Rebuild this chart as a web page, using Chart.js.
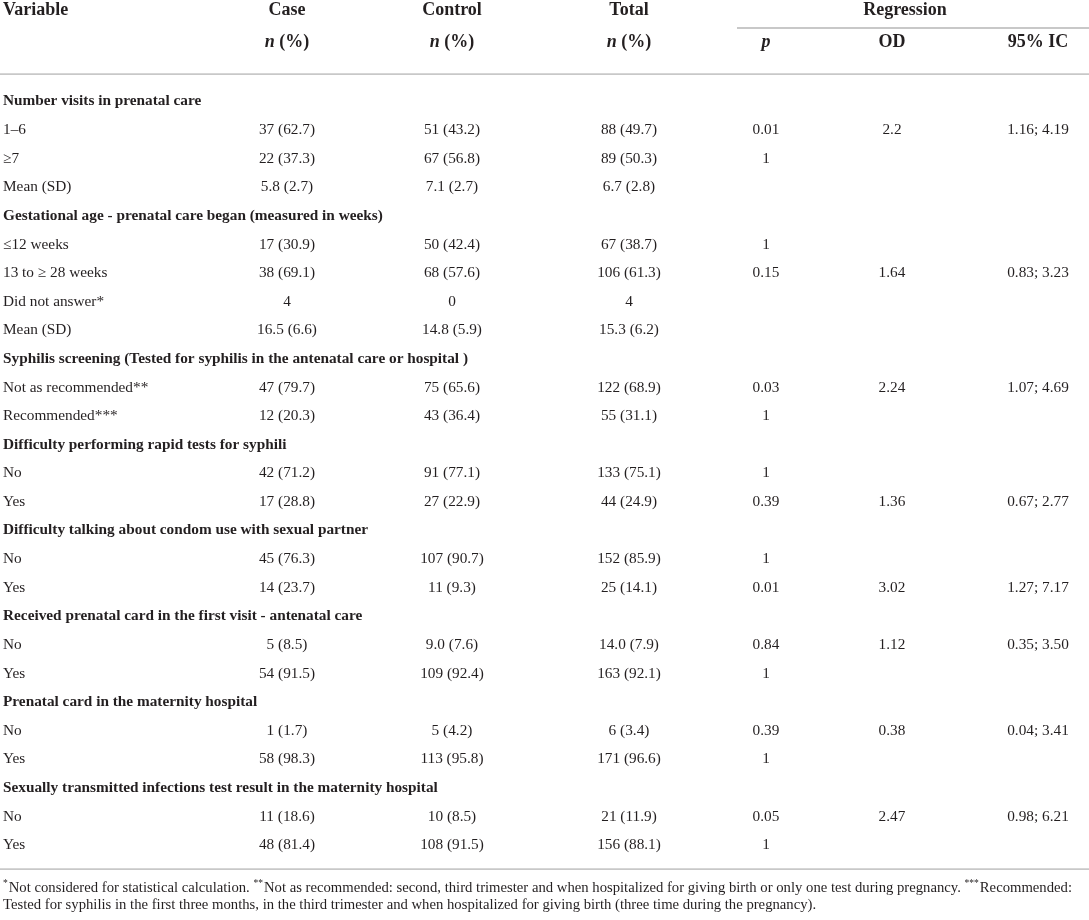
<!DOCTYPE html>
<html>
<head>
<meta charset="utf-8">
<script src="https://cdn.jsdelivr.net/npm/chart.js@4.4.1/dist/chart.umd.min.js"></script>
<style>
html, body { margin: 0; padding: 0; background: #fff; }
#wrap { width: 1089px; height: 920px; position: relative; }
</style>
</head>
<body>
<div id="wrap"><canvas id="chart"></canvas></div>
<script>
// table content, one array per column
const variables = [
  "Number visits in prenatal care", "1–6", "≥7", "Mean (SD)",
  "Gestational age - prenatal care began (measured in weeks)", "≤12 weeks", "13 to ≥ 28 weeks", "Did not answer*", "Mean (SD)",
  "Syphilis screening (Tested for syphilis in the antenatal care or hospital )", "Not as recommended**", "Recommended***",
  "Difficulty performing rapid tests for syphili", "No", "Yes",
  "Difficulty talking about condom use with sexual partner", "No", "Yes",
  "Received prenatal card in the first visit - antenatal care", "No", "Yes",
  "Prenatal card in the maternity hospital", "No", "Yes",
  "Sexually transmitted infections test result in the maternity hospital", "No", "Yes"
];
const groupRows = [0, 4, 9, 12, 15, 18, 21, 24];

const caseN = ["", "37 (62.7)", "22 (37.3)", "5.8 (2.7)", "", "17 (30.9)", "38 (69.1)", "4", "16.5 (6.6)", "", "47 (79.7)", "12 (20.3)", "", "42 (71.2)", "17 (28.8)", "", "45 (76.3)", "14 (23.7)", "", "5 (8.5)", "54 (91.5)", "", "1 (1.7)", "58 (98.3)", "", "11 (18.6)", "48 (81.4)"];
const controlN = ["", "51 (43.2)", "67 (56.8)", "7.1 (2.7)", "", "50 (42.4)", "68 (57.6)", "0", "14.8 (5.9)", "", "75 (65.6)", "43 (36.4)", "", "91 (77.1)", "27 (22.9)", "", "107 (90.7)", "11 (9.3)", "", "9.0 (7.6)", "109 (92.4)", "", "5 (4.2)", "113 (95.8)", "", "10 (8.5)", "108 (91.5)"];
const totalN = ["", "88 (49.7)", "89 (50.3)", "6.7 (2.8)", "", "67 (38.7)", "106 (61.3)", "4", "15.3 (6.2)", "", "122 (68.9)", "55 (31.1)", "", "133 (75.1)", "44 (24.9)", "", "152 (85.9)", "25 (14.1)", "", "14.0 (7.9)", "163 (92.1)", "", "6 (3.4)", "171 (96.6)", "", "21 (11.9)", "156 (88.1)"];
const pValue = ["", "0.01", "1", "", "", "1", "0.15", "", "", "", "0.03", "1", "", "1", "0.39", "", "1", "0.01", "", "0.84", "1", "", "0.39", "1", "", "0.05", "1"];
const oddsRatio = ["", "2.2", "", "", "", "", "1.64", "", "", "", "2.24", "", "", "", "1.36", "", "", "3.02", "", "1.12", "", "", "0.38", "", "", "2.47", ""];
const ci95 = ["", "1.16; 4.19", "", "", "", "", "0.83; 3.23", "", "", "", "1.07; 4.69", "", "", "", "0.67; 2.77", "", "", "1.27; 7.17", "", "0.35; 3.50", "", "", "0.04; 3.41", "", "", "0.98; 6.21", ""];

const headTop = ["Variable", "Case", "Control", "Total"];
const headSub = ["", "n (%)", "n (%)", "n (%)", "p", "OD", "95% IC"];
const footLines = [
  [["sup", "*"], ["txt", "Not considered for statistical calculation. "], ["sup", "**"], ["txt", "Not as recommended: second, third trimester and when hospitalized for giving birth or only one test during pregnancy. "], ["sup", "***"], ["txt", "Recommended:"]],
  [["txt", "Tested for syphilis in the first three months, in the third trimester and when hospitalized for giving birth (three time during the pregnancy)."]]
];

// layout
const W = 1089, H = 920;
const COL_X = [3, 287, 452, 629, 766, 892, 1038];
const ROW0 = 101.5, ROW_H = 28.6;
const HEAD1 = -3.2, HEAD2 = -2.08, RULE_HEAD = -0.96, RULE_REG = -2.57, RULE_END = 26.84;
const FOOT1 = 27.5, FOOT2 = 28.1;
const REG_X0 = 737, REG_MID = 905;
const SERIF = "'Liberation Serif', 'DejaVu Serif', serif";
const INK = "#231f20";

const columns = [variables, caseN, controlN, totalN, pValue, oddsRatio, ci95];

const datasets = columns.map(function(col, c){
  const pts = [];
  col.forEach(function(t, r){
    if (t !== "") pts.push({ x: COL_X[c], y: r, text: t, bold: c === 0 && groupRows.includes(r) });
  });
  return { data: pts, pointRadius: 0, pointHoverRadius: 0, align: c === 0 ? "left" : "center" };
});

function richText(ctx, parts, x, y, align){
  // parts: [font, text]
  let w = 0;
  parts.forEach(function(p){ ctx.font = p[0]; w += ctx.measureText(p[1]).width; });
  let cx = align === "center" ? x - w / 2 : x;
  ctx.textAlign = "left";
  parts.forEach(function(p){ ctx.font = p[0]; ctx.fillText(p[1], cx, y); cx += ctx.measureText(p[1]).width; });
}

const tablePlugin = {
  id: "tableText",
  afterDatasetsDraw: function(chart){
    const ctx = chart.ctx;
    const xs = chart.scales.x, ys = chart.scales.y;
    ctx.save();
    ctx.fillStyle = INK;
    ctx.textBaseline = "middle";

    // body cells
    chart.data.datasets.forEach(function(ds, i){
      const meta = chart.getDatasetMeta(i);
      meta.data.forEach(function(el, j){
        const d = ds.data[j];
        ctx.font = (d.bold ? "bold " : "") + "15.3px " + SERIF;
        ctx.textAlign = ds.align;
        ctx.fillText(d.text, el.x, el.y);
      });
    });

    // header
    const boldHead = "bold 18px " + SERIF;
    const italHead = "italic bold 18px " + SERIF;
    const y1 = ys.getPixelForValue(HEAD1), y2 = ys.getPixelForValue(HEAD2);
    headTop.forEach(function(t, c){
      ctx.font = boldHead;
      ctx.textAlign = c === 0 ? "left" : "center";
      ctx.fillText(t, xs.getPixelForValue(COL_X[c]), y1);
    });
    ctx.textAlign = "center";
    ctx.fillText("Regression", xs.getPixelForValue(REG_MID), y1);
    headSub.forEach(function(t, c){
      if (!t) return;
      const x = xs.getPixelForValue(COL_X[c]);
      if (t.indexOf("n ") === 0) {
        richText(ctx, [[italHead, "n"], [boldHead, t.slice(1)]], x, y2, "center");
      } else if (t === "p") {
        richText(ctx, [[italHead, "p"]], x, y2, "center");
      } else {
        richText(ctx, [[boldHead, t]], x, y2, "center");
      }
    });

    // rules
    ctx.strokeStyle = "#c8c8c8";
    ctx.lineWidth = 1.8;
    [[0, W, RULE_HEAD], [REG_X0, W, RULE_REG], [0, W, RULE_END]].forEach(function(r){
      const y = ys.getPixelForValue(r[2]);
      ctx.beginPath();
      ctx.moveTo(xs.getPixelForValue(r[0]), y);
      ctx.lineTo(xs.getPixelForValue(r[1]), y);
      ctx.stroke();
    });

    // footnotes
    [FOOT1, FOOT2].forEach(function(v, k){
      const y = ys.getPixelForValue(v);
      let x = xs.getPixelForValue(COL_X[0]);
      ctx.textAlign = "left";
      footLines[k].forEach(function(seg){
        if (seg[0] === "sup") {
          ctx.font = "9.5px " + SERIF;
          ctx.fillText(seg[1], x, y - 4.5);
        } else {
          ctx.font = "14.7px " + SERIF;
          ctx.fillText(seg[1], x, y);
        }
        x += ctx.measureText(seg[1]).width + (seg[0] === "sup" ? 1 : 0);
      });
    });
    ctx.restore();
  }
};

new Chart(document.getElementById("chart").getContext("2d"), {
  type: "scatter",
  data: { datasets: datasets },
  options: {
    responsive: true,
    maintainAspectRatio: false,
    animation: false,
    events: [],
    layout: { padding: 0 },
    plugins: { legend: { display: false }, tooltip: { enabled: false } },
    scales: {
      x: { type: "linear", display: false, min: 0, max: W },
      y: { type: "linear", display: false, reverse: true, min: -ROW0 / ROW_H, max: (H - ROW0) / ROW_H }
    }
  },
  plugins: [tablePlugin]
});
</script>
</body>
</html>
